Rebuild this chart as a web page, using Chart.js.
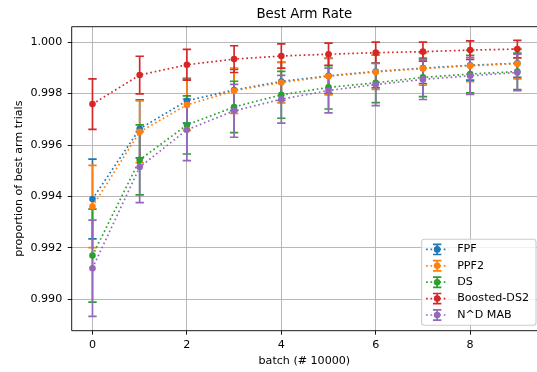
<!DOCTYPE html>
<html>
<head>
<meta charset="utf-8">
<title>Best Arm Rate</title>
<script src="https://cdn.jsdelivr.net/npm/chart.js@4.4.1/dist/chart.umd.min.js"></script>
<style>
    html, body { margin: 0; padding: 0; overflow: hidden; background: #fff; }
    #rateCanvas { display: block; }
</style>
</head>
<body>
<canvas id="rateCanvas" width="537" height="372"></canvas>
<script>
//Batches on the x axis (in units of 10000)
const batches = [0, 1, 2, 3, 4, 5, 6, 7, 8, 9]

//Mean proportion of best arm trials per algorithm, and the error bar half-widths
const fpfRate = [0.99390, 0.99663, 0.99772, 0.99814, 0.99847, 0.99869, 0.99886, 0.99899, 0.99910, 0.99918]
const fpfErr = [0.00155, 0.00113, 0.00087, 0.00080, 0.00074, 0.00068, 0.00064, 0.00060, 0.00058, 0.00055]

const ppf2Rate = [0.99361, 0.99651, 0.99756, 0.99811, 0.99843, 0.99867, 0.99884, 0.99897, 0.99908, 0.99916]
const ppf2Err = [0.00160, 0.00120, 0.00099, 0.00088, 0.00079, 0.00072, 0.00068, 0.00064, 0.00062, 0.00059]

const dsRate = [0.99170, 0.99542, 0.99678, 0.99748, 0.99795, 0.99824, 0.99842, 0.99863, 0.99876, 0.99886]
const dsErr = [0.00181, 0.00136, 0.00113, 0.00100, 0.00091, 0.00084, 0.00077, 0.00075, 0.00073, 0.00071]

const boostedRate = [0.99759, 0.99872, 0.99912, 0.99934, 0.99946, 0.99953, 0.99959, 0.99963, 0.99969, 0.99973]
const boostedErr = [0.00098, 0.00073, 0.00060, 0.00052, 0.00047, 0.00043, 0.00041, 0.00037, 0.00036, 0.00034]

const ndMabRate = [0.99121, 0.99514, 0.99659, 0.99733, 0.99778, 0.99812, 0.99835, 0.99855, 0.99869, 0.99882]
const ndMabErr = [0.00187, 0.00138, 0.00120, 0.00103, 0.00093, 0.00087, 0.00082, 0.00078, 0.00072, 0.00071]

const seriesNames = ['FPF', 'PPF2', 'DS', 'Boosted-DS2', 'N^D MAB']
const seriesColors = ['#1f77b4', '#ff7f0e', '#2ca02c', '#d62728', '#9467bd']
const seriesRates = [fpfRate, ppf2Rate, dsRate, boostedRate, ndMabRate]
const seriesErrs = [fpfErr, ppf2Err, dsErr, boostedErr, ndMabErr]

//Tick values
const xTicks = [0, 2, 4, 6, 8]
const yTicks = [0.990, 0.992, 0.994, 0.996, 0.998, 1.000]



const FONT = 'DejaVu Sans'
const LINE_W = 1.67
const CAP_HALF = 4.2
const DOT_R = 3.3

//Error bars sit below all lines and markers, drawn in series order
const errorBars = {
    id: 'errorBars',
    beforeDatasetsDraw(chart)
    {
        const ctx = chart.ctx
        const yScale = chart.scales.y
        ctx.save()
        ctx.lineWidth = LINE_W
        chart.data.datasets.forEach((ds, i) =>
        {
            const meta = chart.getDatasetMeta(i)
            ctx.strokeStyle = ds.borderColor
            meta.data.forEach((pt, j) =>
            {
                const top = yScale.getPixelForValue(ds.data[j].y + ds.errors[j])
                const bottom = yScale.getPixelForValue(ds.data[j].y - ds.errors[j])
                ctx.beginPath()
                ctx.moveTo(pt.x, top)
                ctx.lineTo(pt.x, bottom)
                ctx.moveTo(pt.x - CAP_HALF, top)
                ctx.lineTo(pt.x + CAP_HALF, top)
                ctx.moveTo(pt.x - CAP_HALF, bottom)
                ctx.lineTo(pt.x + CAP_HALF, bottom)
                ctx.stroke()
            })
        })
        ctx.restore()
    }
}

//Axes spines (the right one falls past the canvas edge) plus a legend box in the lower right corner
const frameAndLegend = {
    id: 'frameAndLegend',
    afterDatasetsDraw(chart)
    {
        const {ctx, chartArea} = chart
        ctx.save()
        ctx.strokeStyle = '#000'
        ctx.lineWidth = 0.9
        ctx.beginPath()
        ctx.moveTo(chartArea.right, chartArea.top)
        ctx.lineTo(chartArea.left, chartArea.top)
        ctx.lineTo(chartArea.left, chartArea.bottom)
        ctx.lineTo(chartArea.right, chartArea.bottom)
        ctx.stroke()

        const fontSize = 11.1
        const padLeft = 4.4, padRight = 7, handle = 22.2, gap = 8.9, rowH = 16.4, inset = 10.2
        ctx.font = fontSize + 'px "' + FONT + '"'
        const datasets = chart.data.datasets
        const textW = Math.max(...datasets.map(ds => ctx.measureText(ds.label).width))
        const boxW = padLeft + handle + gap + textW + padRight
        const boxH = 2 * inset + (datasets.length - 1) * rowH
        const right = chartArea.right - 1
        const bottom = chartArea.bottom - 5.5
        const left = right - boxW
        const top = bottom - boxH

        ctx.beginPath()
        ctx.roundRect(left, top, boxW, boxH, 2.5)
        ctx.fillStyle = 'rgba(255,255,255,0.8)'
        ctx.fill()
        ctx.strokeStyle = '#cccccc'
        ctx.lineWidth = 1.1
        ctx.stroke()

        datasets.forEach((ds, i) =>
        {
            const cy = top + inset + i * rowH
            const x0 = left + padLeft
            const cx = x0 + handle / 2
            ctx.strokeStyle = ds.borderColor
            ctx.lineWidth = LINE_W
            ctx.setLineDash(ds.borderDash)
            ctx.beginPath()
            ctx.moveTo(x0, cy)
            ctx.lineTo(x0 + handle, cy)
            ctx.stroke()
            ctx.setLineDash([])
            ctx.beginPath()
            ctx.moveTo(cx, cy - 5.1)
            ctx.lineTo(cx, cy + 5.1)
            ctx.moveTo(cx - CAP_HALF, cy - 5.1)
            ctx.lineTo(cx + CAP_HALF, cy - 5.1)
            ctx.moveTo(cx - CAP_HALF, cy + 5.1)
            ctx.lineTo(cx + CAP_HALF, cy + 5.1)
            ctx.stroke()
            ctx.fillStyle = ds.borderColor
            ctx.beginPath()
            ctx.arc(cx, cy, DOT_R, 0, Math.PI * 2)
            ctx.fill()

            ctx.fillStyle = '#000'
            ctx.textAlign = 'left'
            ctx.textBaseline = 'middle'
            ctx.fillText(ds.label, x0 + handle + gap, cy)
        })
        ctx.restore()
    }
}



const rateCanvas = document.getElementById('rateCanvas')
const rateChart = new Chart(
    rateCanvas,
    {
        type: 'line',
        data:
        {
            datasets: seriesNames.map((name, i) => ({
                label: name,
                data: batches.map((b, j) => ({x: b, y: seriesRates[i][j]})),
                errors: seriesErrs[i],
                borderColor: seriesColors[i],
                backgroundColor: seriesColors[i],
                pointBackgroundColor: seriesColors[i],
                borderWidth: LINE_W,
                borderDash: [1.67, 2.75],
                borderCapStyle: 'butt',
                pointRadius: DOT_R,
                pointBorderWidth: 0,
                tension: 0,
                fill: false,
                order: seriesNames.length - i
            }))
        },
        plugins: [errorBars, frameAndLegend],
        options:
        {
            responsive: false,
            animation: false,
            devicePixelRatio: 1,
            layout:
            {
                padding: 0,
                autoPadding: false
            },
            scales:
            {
                x:
                {
                    type: 'linear',
                    min: -0.44,
                    max: 9.416,
                    afterBuildTicks: scale => { scale.ticks = xTicks.map(v => ({value: v})) },
                    afterFit: scale =>
                    {
                        //fixed axis height, and no extra side room for the end labels
                        scale.height = 41.3
                        scale.paddingLeft = 0
                        scale.paddingRight = 0
                    },
                    grid:
                    {
                        color: '#b0b0b0',
                        lineWidth: 0.9,
                        tickLength: 4,
                        tickColor: '#000',
                        tickWidth: 0.9
                    },
                    border: {display: false},
                    ticks:
                    {
                        padding: 3.6,
                        color: '#000',
                        font: {family: FONT, size: 11.1},
                        callback: v => v.toString()
                    },
                    title:
                    {
                        display: true,
                        text: 'batch (# 10000)',
                        color: '#000',
                        font: {family: FONT, size: 11.1},
                        padding: {top: 0, bottom: 4.1}
                    }
                },
                y:
                {
                    min: 0.98878,
                    max: 1.0006,
                    afterBuildTicks: scale => { scale.ticks = yTicks.map(v => ({value: v})) },
                    afterFit: scale => { scale.width = 71.7 },
                    grid:
                    {
                        color: '#b0b0b0',
                        lineWidth: 0.9,
                        tickLength: 4,
                        tickColor: '#000',
                        tickWidth: 0.9
                    },
                    border: {display: false},
                    ticks:
                    {
                        padding: 5.5,
                        color: '#000',
                        font: {family: FONT, size: 11.1},
                        callback: v => v.toFixed(3)
                    },
                    title:
                    {
                        display: true,
                        text: 'proportion of best arm trials',
                        color: '#000',
                        font: {family: FONT, size: 11.1},
                        padding: {top: 12.8, bottom: 0}
                    }
                }
            },
            plugins:
            {
                legend: {display: false},
                tooltip: {enabled: false},
                title:
                {
                    display: true,
                    fullSize: false,
                    text: 'Best Arm Rate',
                    color: '#000',
                    font: {family: FONT, size: 13.33, weight: 'normal'},
                    padding: {top: 7, bottom: 3.7}
                }
            }
        }
    }
);
</script>
</body>
</html>
